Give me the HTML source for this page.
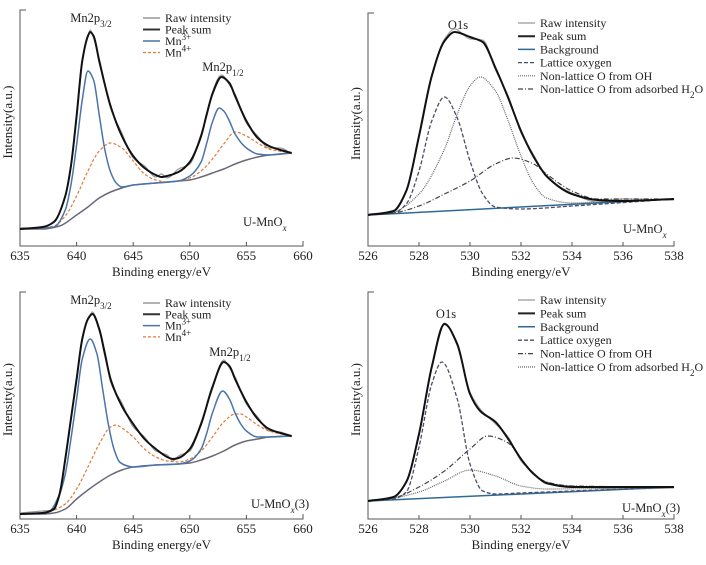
<!DOCTYPE html>
<html><head><meta charset="utf-8">
<style>
html,body{margin:0;padding:0;background:#fff;}
svg{display:block;font-family:"Liberation Serif",serif;}
</style></head>
<body>
<svg id="chart" width="706" height="565" viewBox="0 0 706 565" xmlns="http://www.w3.org/2000/svg"></svg>
<script>
// ===== Panel A (top-left, Mn2p U-MnOx) =====
const aBgX=[635,637,638.5,640,641,642,643,644,645,647,649,650,651,652,653,654,655,656,657,659];
const aBgY=[17,17,20,31,39,48,54,58,61,63,65,66,69,73,77,82,86,89,91,93];
const aMn3X=[635,638,639,639.5,640,640.5,641,641.5,642,642.5,643,643.5,644,645,647,649,650,651,651.5,652,652.6,653,653.5,654,655,656,657,659];
const aMn3Y=[17,19,36,61,101,146,175,166,131,96,74,63,59,61,63,65,70,84,103,124,138,135,125,112,98,92,91,93];
const aMn4X=[635,637,638,639,640,641,642,643,644,645,646,647,648,649,650,651,652,653,654,655,656,657,659];
const aMn4Y=[17,18,20,30,50,75,95,103,98,85,72,66,64,65,68,75,87,102,114,110,103,97,93];
const aSumX=[635,637,638,639,639.5,640,640.5,641,641.2,641.5,642,643,644,645,646,647,647.5,648,649,650,651,651.5,652,652.8,653.5,654,655,656,657,658,659];
const aSumY=[17,19,24,50,80,130,185,210,214,210,185,140,110,90,78,71,69,70,74,84,110,132,152,169,163,150,125,108,100,96,93];
const aRawY=[18,18,25,49,82,128,187,209,216,208,187,138,113,88,80,69,72,68,77,82,112,130,154,171,161,152,123,110,98,98,92];
// ===== Panel B (top-right, O1s U-MnOx) =====
const bBgX=[526,538];
const bBgY=[31,47];
const bLatX=[526,527,527.5,528,528.5,529,529.5,530,530.5,531,532,534,538];
const bLatY=[31,33,42,75,125,149,128,85,52,39,37,40,47];
const bOHX=[526,527,528,529,529.5,530,530.4,531,531.5,532,532.5,533,534,535,538];
const bOHY=[31,34,52,97,132,160,169,155,125,90,62,48,43,44,47];
const bH2OX=[526,527,528,529,530,531,531.7,532.5,533,534,535,538];
const bH2OY=[31,33,40,52,65,82,88,82,72,55,47,47];
const bSumX=[526,527,527.5,528,528.5,529,529.4,530,530.5,531,531.5,532,532.5,533,534,535,536,538];
const bSumY=[31,35,55,110,170,205,214,209,204,178,148,115,89,70,52,46,45,47];
const bRawY=[32,34,56,108,168,207,217,207,206,176,150,113,91,69,53,44,47,46];
// ===== Panel C (bottom-left, Mn2p U-MnOx(3)) =====
const cBgX=[635,637,638,639,640,641,642,643,644,645,647,649,650,651,652,653,654,655,656,657,659];
const cBgY=[5,5,6,10,20,29,37,44,49,52,54,55,56,59,63,68,74,78,80,82,83];
const cMn3X=[635,637.5,638.5,639,639.5,640,640.5,641.2,641.8,642.3,642.8,643.3,643.8,644.5,645,647,649,650,651,651.5,652,652.9,653.5,654,654.5,655,656,657,659];
const cMn3Y=[5,7,25,45,80,120,160,180,165,130,95,70,57,53,52,54,55,58,70,86,106,128,120,106,95,88,82,82,83];
const cMn4X=[635,637,638,639,640,641,642,643,643.5,644,645,646,647,648,649,650,651,652,653,654,654.5,655,656,657,659];
const cMn4Y=[5,6,9,15,30,52,75,92,94,91,82,70,62,58,57,60,68,82,97,105,105,102,94,88,83];
const cSumX=[635,637,638,638.5,639,639.5,640,640.5,641,641.4,642,642.5,643,644,645,646,647,648,648.5,649,650,651,652,653,653.5,654,655,656,657,658,659];
const cSumY=[5,6,10,25,60,100,140,180,200,205,190,165,140,113,95,80,70,62,60,61,70,95,132,157,153,140,117,100,90,86,83];
const cRawY=[6,8,9,27,58,102,138,182,199,207,188,168,137,116,92,82,68,64,58,63,68,97,130,159,151,142,115,102,88,87,82];
// ===== Panel D (bottom-right, O1s U-MnOx(3)) =====
const dBgX=[526,538];
const dBgY=[18,32];
const dLatX=[526,527,527.5,528,528.5,528.9,529.5,530,530.5,531,532,538];
const dLatY=[18,20,27,72,135,157,120,55,28,25,26,32];
const dOHX=[526,527,528,529,530,530.7,531.5,532,532.5,533,534,538];
const dOHY=[18,21,32,48,70,83,76,60,45,37,33,32];
const dH2OX=[526,527,528,529,530,531,532,533,538];
const dH2OY=[18,21,27,38,49,43,33,30,32];
const dSumX=[526,527,527.5,528,528.5,529,529.5,530,530.4,531,531.5,532,532.5,533,534,536,538];
const dSumY=[18,22,37,85,152,195,175,125,108,97,80,60,45,36,32,32,32];
const dRawY=[19,21,38,84,153,196,173,127,110,95,82,58,46,35,33,30,31];
const mnTicks=[635,640,645,650,655,660];
const oTicks=[526,528,530,532,534,536,538];

const NS="http://www.w3.org/2000/svg";
const svg=document.getElementById('chart');
function mk(tag,attrs,parent){const e=document.createElementNS(NS,tag);for(const k in attrs)e.setAttribute(k,attrs[k]);(parent||svg).appendChild(e);return e;}
// monotone cubic (Fritsch-Carlson) path in pixel space
function smooth(pts){
  const n=pts.length;
  if(n<3)return 'M'+pts.map(p=>p[0].toFixed(2)+','+p[1].toFixed(2)).join('L');
  const dx=[],s=[];
  for(let i=0;i<n-1;i++){dx.push(pts[i+1][0]-pts[i][0]);s.push((pts[i+1][1]-pts[i][1])/dx[i]);}
  const m=[s[0]];
  for(let i=1;i<n-1;i++){
    if(s[i-1]*s[i]<=0)m.push(0);
    else{const w1=2*dx[i]+dx[i-1],w2=dx[i]+2*dx[i-1];m.push((w1+w2)/(w1/s[i-1]+w2/s[i]));}
  }
  m.push(s[n-2]);
  let d='M'+pts[0][0].toFixed(2)+','+pts[0][1].toFixed(2);
  for(let i=0;i<n-1;i++){
    const h=dx[i];
    d+='C'+(pts[i][0]+h/3).toFixed(2)+','+(pts[i][1]+m[i]*h/3).toFixed(2)+' '+(pts[i+1][0]-h/3).toFixed(2)+','+(pts[i+1][1]-m[i+1]*h/3).toFixed(2)+' '+pts[i+1][0].toFixed(2)+','+pts[i+1][1].toFixed(2);
  }
  return d;
}
function panel(cfg){
  const g=mk('g',{});
  
  
  const xs=v=>cfg.x0+(v-cfg.xmin)/(cfg.xmax-cfg.xmin)*(cfg.x1-cfg.x0);
  const ys=v=>cfg.yb-v;
  const ax=mk('path',{d:`M${cfg.x0+6},${cfg.yt}H${cfg.x0}V${cfg.yb}H${cfg.x1}V${cfg.yb-5}`,fill:'none',stroke:'#555','stroke-width':1},g);
  
  
  cfg.ticks.forEach(t=>{
    const x=xs(t);
    const tk=mk('line',{x1:x,x2:x,y1:cfg.yb,y2:cfg.yb-4,stroke:'#555','stroke-width':1},g);
    
    
    const tl=mk('text',{x:x,y:cfg.yb+14,'text-anchor':'middle','font-size':13,fill:'#222'},g);
    tl.textContent=t;
    
    
  });
  const xt=mk('text',{x:(cfg.x0+cfg.x1)/2,y:cfg.yb+30,'text-anchor':'middle','font-size':13,fill:'#222'},g);
  xt.textContent='Binding energy/eV';
  
  
  const yt=mk('text',{x:0,y:0,'text-anchor':'middle','font-size':13,fill:'#222',transform:`translate(${cfg.x0-8},${(cfg.yt+cfg.yb)/2-6}) rotate(-90)`},g);
  yt.textContent='Intensity(a.u.)';
  
  
  cfg.series.forEach(s=>{
    const pts=s.x.map((v,i)=>[xs(v),ys(s.y[i])]);
    const p=mk('path',{d:smooth(pts),fill:'none',stroke:s.c,'stroke-width':s.w,'stroke-dasharray':s.dash||'none'},g);
    
    
  });
  cfg.legend.forEach((l,i)=>{
    const y=cfg.ly+i*cfg.lstep;
    const ln=mk('line',{x1:cfg.lx,x2:cfg.lx+17,y1:y,y2:y,stroke:l.c,'stroke-width':l.w,'stroke-dasharray':l.dash||'none'},g);
    
    
    const tx=mk('text',{x:cfg.lx+22,y:y+4,'font-size':12,fill:'#222'},g);
    tx.innerHTML=l.t;
    
    
  });
  cfg.labels.forEach(l=>{
    const tx=mk('text',{x:l.x,y:l.y,'font-size':12.5,fill:'#222','text-anchor':l.a||'start'},g);
    tx.innerHTML=l.t;
    
    
  });
}
const BLK='#111',BLU='#4a74aa',ORG='#e07b39',BGL='#6a6878',TEAL='#2f6a96',DSH='#4a4e66',DOT='#666';
const mnLegend=[
  {t:'Raw intensity',c:'#999',w:1.5},{t:'Peak sum',c:'#333',w:2},
  {t:'Mn<tspan baseline-shift="super" font-size="9">3+</tspan>',c:BLU,w:1.5},
  {t:'Mn<tspan baseline-shift="super" font-size="9">4+</tspan>',c:ORG,w:1.2,dash:'3,2'}];
panel({name:'panel-mn2p-u-mnox',x0:20,x1:303,yt:10,yb:246,xmin:635,xmax:660,ticks:mnTicks,
  series:[
    {n:'raw-intensity-line',x:aSumX,y:aRawY,c:'#999',w:1.2},
    {n:'background-line',x:aBgX,y:aBgY,c:BGL,w:1.5},
    {n:'mn4-line',x:aMn4X,y:aMn4Y,c:ORG,w:1.2,dash:'3,2'},
    {n:'mn3-line',x:aMn3X,y:aMn3Y,c:BLU,w:1.5},
    {n:'peak-sum-line',x:aSumX,y:aSumY,c:BLK,w:2}],
  lx:143,ly:18,lstep:11.5,legend:mnLegend,
  labels:[{x:91,y:22,a:'middle',n:'peak-label-mn2p32',t:'Mn2p<tspan baseline-shift="sub" font-size="9">3/2</tspan>'},
          {x:223,y:71,a:'middle',n:'peak-label-mn2p12',t:'Mn2p<tspan baseline-shift="sub" font-size="9">1/2</tspan>'},
          {x:243,y:226,n:'sample-label',t:'U-MnO<tspan font-style="italic" baseline-shift="sub" font-size="9">x</tspan>'}]});
panel({name:'panel-mn2p-u-mnox3',x0:20,x1:303,yt:292,yb:519,xmin:635,xmax:660,ticks:mnTicks,
  series:[
    {n:'raw-intensity-line',x:cSumX,y:cRawY,c:'#999',w:1.2},
    {n:'background-line',x:cBgX,y:cBgY,c:BGL,w:1.5},
    {n:'mn4-line',x:cMn4X,y:cMn4Y,c:ORG,w:1.2,dash:'3,2'},
    {n:'mn3-line',x:cMn3X,y:cMn3Y,c:BLU,w:1.5},
    {n:'peak-sum-line',x:cSumX,y:cSumY,c:BLK,w:2}],
  lx:143,ly:303,lstep:11.3,legend:mnLegend,
  labels:[{x:91,y:304,a:'middle',n:'peak-label-mn2p32',t:'Mn2p<tspan baseline-shift="sub" font-size="9">3/2</tspan>'},
          {x:230,y:356,a:'middle',n:'peak-label-mn2p12',t:'Mn2p<tspan baseline-shift="sub" font-size="9">1/2</tspan>'},
          {x:251,y:508,n:'sample-label',t:'U-MnO<tspan font-style="italic" baseline-shift="sub" font-size="9">x</tspan>(3)'}]});
const oLegendTop=[
  {t:'Raw intensity',c:'#aaa',w:1.5},{t:'Peak sum',c:'#222',w:2},{t:'Background',c:TEAL,w:1.5},
  {t:'Lattice oxygen',c:DSH,w:1.3,dash:'4,2'},{t:'Non-lattice O from OH',c:DOT,w:1.2,dash:'1,1'},
  {t:'Non-lattice O from adsorbed H<tspan baseline-shift="sub" font-size="9">2</tspan>O',c:'#444',w:1.2,dash:'5,2,1,2'}];
const oLegendBot=[
  {t:'Raw intensity',c:'#aaa',w:1.5},{t:'Peak sum',c:'#222',w:2},{t:'Background',c:TEAL,w:1.5},
  {t:'Lattice oxygen',c:DSH,w:1.3,dash:'4,2'},{t:'Non-lattice O from OH',c:'#444',w:1.2,dash:'5,2,1,2'},
  {t:'Non-lattice O from adsorbed H<tspan baseline-shift="sub" font-size="9">2</tspan>O',c:DOT,w:1.2,dash:'1,1'}];
panel({name:'panel-o1s-u-mnox',x0:368,x1:674,yt:13,yb:246,xmin:526,xmax:538,ticks:oTicks,
  series:[
    {n:'raw-intensity-line',x:bSumX,y:bRawY,c:'#aaa',w:1.2},
    {n:'background-line',x:bBgX,y:bBgY,c:TEAL,w:1.5},
    {n:'lattice-oxygen-line',x:bLatX,y:bLatY,c:DSH,w:1.3,dash:'4,2'},
    {n:'oh-oxygen-line',x:bOHX,y:bOHY,c:DOT,w:1.2,dash:'1,1'},
    {n:'h2o-oxygen-line',x:bH2OX,y:bH2OY,c:'#444',w:1.2,dash:'5,2,1,2'},
    {n:'peak-sum-line',x:bSumX,y:bSumY,c:BLK,w:2}],
  lx:518,ly:23,lstep:13.2,legend:oLegendTop,
  labels:[{x:458,y:29,a:'middle',n:'peak-label-o1s',t:'O1s'},
          {x:623,y:233,n:'sample-label',t:'U-MnO<tspan font-style="italic" baseline-shift="sub" font-size="9">x</tspan>'}]});
panel({name:'panel-o1s-u-mnox3',x0:368,x1:674,yt:292,yb:519,xmin:526,xmax:538,ticks:oTicks,
  series:[
    {n:'raw-intensity-line',x:dSumX,y:dRawY,c:'#aaa',w:1.2},
    {n:'background-line',x:dBgX,y:dBgY,c:TEAL,w:1.5},
    {n:'lattice-oxygen-line',x:dLatX,y:dLatY,c:DSH,w:1.3,dash:'4,2'},
    {n:'oh-oxygen-line',x:dOHX,y:dOHY,c:'#444',w:1.2,dash:'5,2,1,2'},
    {n:'h2o-oxygen-line',x:dH2OX,y:dH2OY,c:DOT,w:1.2,dash:'1,1'},
    {n:'peak-sum-line',x:dSumX,y:dSumY,c:BLK,w:2}],
  lx:518,ly:300,lstep:13.4,legend:oLegendBot,
  labels:[{x:446,y:318,a:'middle',n:'peak-label-o1s',t:'O1s'},
          {x:622,y:512,n:'sample-label',t:'U-MnO<tspan font-style="italic" baseline-shift="sub" font-size="9">x</tspan>(3)'}]});
</script>
</body></html>
